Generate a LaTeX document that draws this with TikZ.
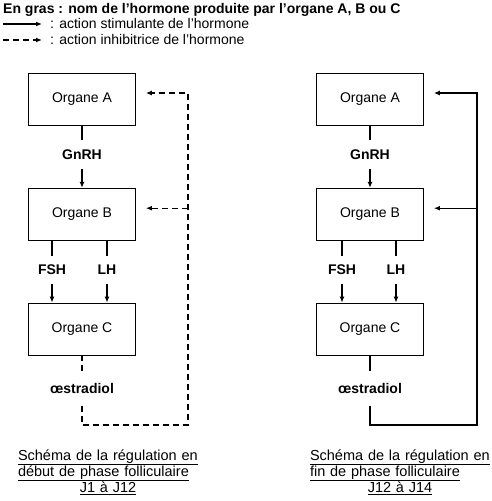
\documentclass[tikz,border=0pt]{standalone}
\usepackage{fontspec}
\setmainfont{Liberation Sans}
\usepackage{tikz}
\usetikzlibrary{positioning, arrows.meta}

\begin{document}
\begin{tikzpicture}[
        x=1pt, y=-1pt,
        >={Latex[length=6pt,width=5pt]},
        font=\fontsize{14}{16}\selectfont,
        organe/.style={draw, line width=0.8pt, minimum width=107pt,
          minimum height=52pt, inner sep=0pt},
        hormone/.style={font=\fontsize{14}{16}\selectfont\bfseries,
          minimum height=28pt, inner sep=0pt},
        lien/.style={line width=1.2pt},
        inhib/.style={lien, dash pattern=on 6pt off 4pt},
        legende/.style={anchor=base west, inner sep=0pt},
        titre/.style={align=left, text width=180pt, inner sep=0pt,
          font=\fontsize{14.5}{16}\selectfont},
      ]
      \useasboundingbox (0,0) rectangle (491,501);

      % Legende
      \node[legende, font=\fontsize{14}{16}\selectfont\bfseries] (entete) at (3,13)
        {En gras : nom de l’hormone produite par l’organe A, B ou C};
      \coordinate (stimdeb) at (3,24);
      \coordinate (stimfin) at (42,24);
      \node[legende] (stimtxt) at (50,28) {: action stimulante de l’hormone};
      \coordinate (inhibdeb) at (3,40);
      \coordinate (inhibfin) at (42,40);
      \node[legende] (inhibtxt) at (50,44) {: action inhibitrice de l’hormone};
      \draw[lien, ->] (stimdeb) -- (stimfin);
      \draw[inhib, ->] (inhibdeb) -- (inhibfin);

      % Debut de phase folliculaire
      \node[organe]                      (AL)    at (82,99) {Organe A};
      \node[hormone, below=15pt of AL]   (gnrhL) {GnRH};
      \node[organe, below=19pt of gnrhL] (BL)    {Organe B};
      \node[hormone, below=15pt of BL, xshift=-30pt] (fshL) {FSH};
      \node[hormone, below=15pt of BL, xshift=25pt]  (lhL)  {LH};
      \node[organe, below=62pt of BL]    (CL)    {Organe C};
      \node[hormone, below=16pt of CL, minimum height=34pt] (oeL) {œstradiol};
      \coordinate (coinL) at (188,425);

      \draw[lien] (AL) -- (gnrhL);
      \draw[lien, ->] (gnrhL) -- (BL);
      \draw[lien] (fshL |- BL.south) -- (fshL);
      \draw[lien] (lhL |- BL.south) -- (lhL);
      \draw[lien, ->] (fshL) -- (fshL |- CL.north);
      \draw[lien, ->] (lhL) -- (lhL |- CL.north);
      \draw[inhib] (CL) -- (oeL);
      \draw[inhib, ->, shorten >=10pt] (oeL) |- (coinL) |- ([yshift=6pt]AL.east);
      \draw[inhib, ->, shorten >=10pt] (coinL |- BL.east) ++(0,-6) -- ([yshift=6pt]BL.east);

      \node[titre] (capL) at (108,472)
        {\underline{Schéma de la régulation en}\\
         \underline{début de phase folliculaire}\\
         \makebox[180pt]{\underline{J1 à J12}}};

      % Fin de phase folliculaire
      \node[organe]                      (AR)    at (370,99) {Organe A};
      \node[hormone, below=15pt of AR]   (gnrhR) {GnRH};
      \node[organe, below=19pt of gnrhR] (BR)    {Organe B};
      \node[hormone, below=15pt of BR, xshift=-28pt] (fshR) {FSH};
      \node[hormone, below=15pt of BR, xshift=26pt]  (lhR)  {LH};
      \node[organe, below=62pt of BR]    (CR)    {Organe C};
      \node[hormone, below=16pt of CR, minimum height=34pt] (oeR) {œstradiol};
      \coordinate (coinR) at (477,425);

      \draw[lien] (AR) -- (gnrhR);
      \draw[lien, ->] (gnrhR) -- (BR);
      \draw[lien] (fshR |- BR.south) -- (fshR);
      \draw[lien] (lhR |- BR.south) -- (lhR);
      \draw[lien, ->] (fshR) -- (fshR |- CR.north);
      \draw[lien, ->] (lhR) -- (lhR |- CR.north);
      \draw[lien] (CR) -- (oeR);
      \draw[lien, ->, shorten >=10pt] (oeR) |- (coinR) |- ([yshift=6pt]AR.east);
      \draw[lien, ->, shorten >=10pt] (coinR |- BR.east) ++(0,-6) -- ([yshift=6pt]BR.east);

      \node[titre] (capR) at (400,472)
        {\underline{Schéma de la régulation en}\\
         \underline{fin de phase folliculaire}\\
         \makebox[180pt]{\underline{J12 à J14}}};

    \end{tikzpicture}
\end{document}
